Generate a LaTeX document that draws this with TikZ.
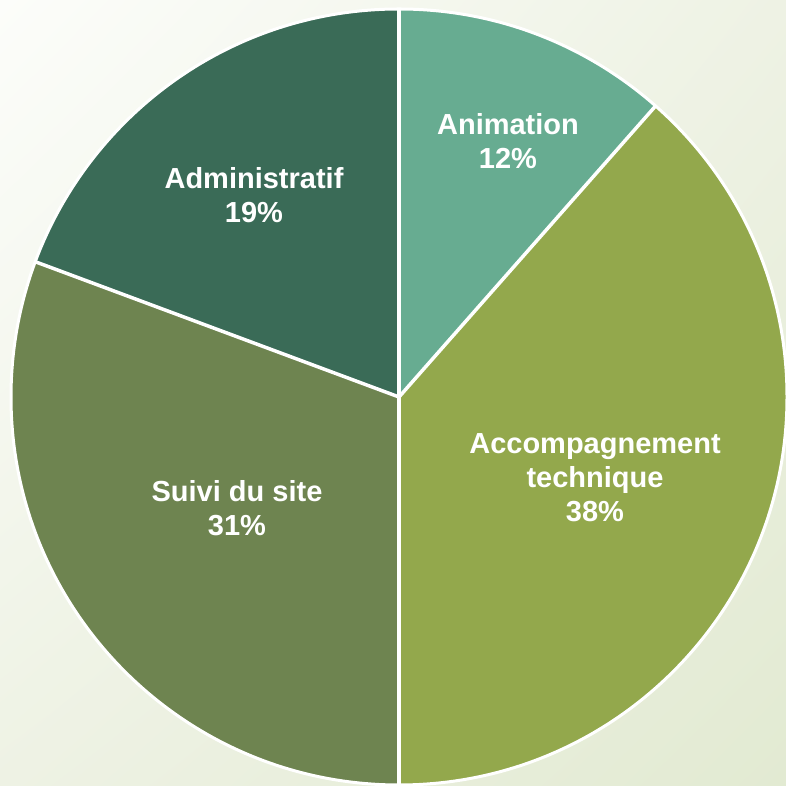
\documentclass[tikz,border=0pt]{standalone}
\usepackage{fontspec}
\setmainfont{Liberation Sans}
\usetikzlibrary{shadings}
\definecolor{cAnim}{HTML}{67AC91}
\definecolor{cAcc}{HTML}{93A84C}
\definecolor{cSuivi}{HTML}{6E8450}
\definecolor{cAdmin}{HTML}{3A6B57}
\definecolor{bgA}{HTML}{FCFDFA}
\definecolor{bgB}{HTML}{EEF2E4}
\definecolor{bgC}{HTML}{E2EAD2}
\tikzset{
  slice/.style={draw=white, line width=3.5pt, line join=miter},
  lbl/.style={text=white, align=center, font=\fontsize{29}{34}\selectfont\bfseries, inner sep=0pt}
}
\begin{document}
\begin{tikzpicture}[x=1pt,y=1pt]
\useasboundingbox (0,0) rectangle (786,786);
\shade[upper left=bgA, upper right=bgB, lower left=bgB, lower right=bgC] (0,0) rectangle (786,786);
\coordinate (c) at (399,389);
\def\R{388}
\fill[cAnim]  (c) -- ++(90:\R) arc[start angle=90, end angle=48.6, radius=\R] -- cycle;
\fill[cAcc]   (c) -- ++(48.6:\R) arc[start angle=48.6, end angle=-90, radius=\R] -- cycle;
\fill[cSuivi] (c) -- ++(-90:\R) arc[start angle=270, end angle=159.6, radius=\R] -- cycle;
\fill[cAdmin] (c) -- ++(159.6:\R) arc[start angle=159.6, end angle=90, radius=\R] -- cycle;
\draw[slice] (c) -- ++(90:\R);
\draw[slice] (c) -- ++(48.6:\R);
\draw[slice] (c) -- ++(-90:\R);
\draw[slice] (c) -- ++(159.6:\R);
\draw[draw=white, line width=3pt] (c) circle[radius=\R];
\node[lbl] (anim) at (508,645) {Animation\\12\%};
\node[lbl] (acc) at (595,308) {Accompagnement\\technique\\38\%};
\node[lbl] (suivi) at (237,278) {Suivi du site\\31\%};
\node[lbl] (admin) at (254,591) {Administratif\\19\%};
\end{tikzpicture}
\end{document}
